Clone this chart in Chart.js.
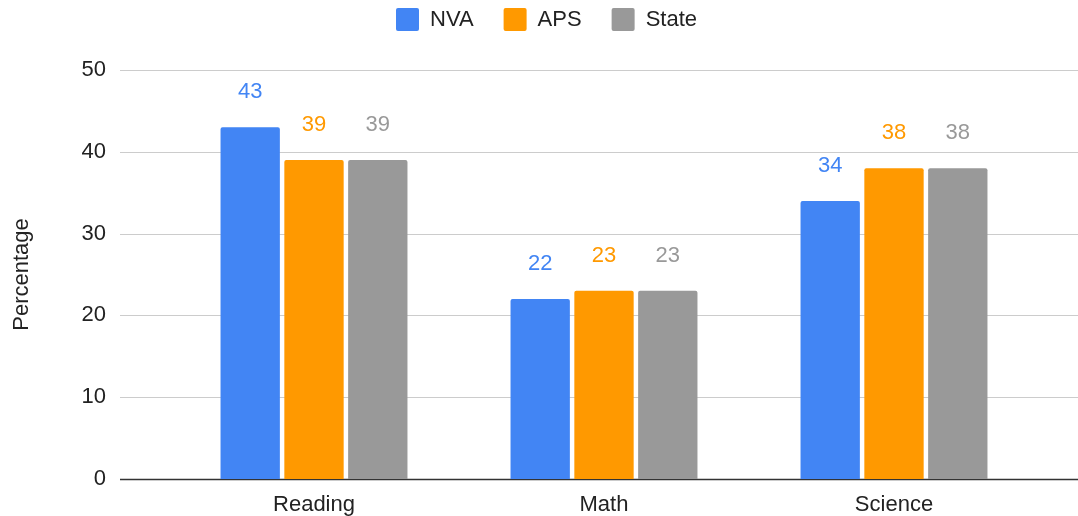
<!DOCTYPE html>
<html>
<head>
<meta charset="utf-8">
<script src="https://cdn.jsdelivr.net/npm/chart.js@4.4.0/dist/chart.umd.min.js"></script>
<style>
  html, body { margin: 0; padding: 0; background: #fff; }
  #wrap { width: 1078px; height: 516px; }
</style>
</head>
<body>
<div id="wrap"><canvas id="chart"></canvas></div>
<script>
// chart data
const subjects = ["Reading", "Math", "Science"];
const nva = [43, 22, 34];
const aps = [39, 23, 38];
const state = [39, 23, 38];
const yTicks = [0, 10, 20, 30, 40, 50];

const colors = ["#4285f4", "#ff9900", "#999999"];
const font = "'Liberation Sans', Arial, sans-serif";
const fsize = 22;

// horizontal gridlines that reach past the category area, like Sheets does
const sheetGrid = {
  id: "sheetGrid",
  afterInit(chart) {
    // legend keeps wide item spacing but takes less room above the plot
    const lg = chart.legend;
    if (lg && !lg._wrapped) {
      const fit = lg.fit.bind(lg);
      lg.fit = function () { fit(); this.height = 70; };
      lg._wrapped = true;
    }
  },
  afterLayout(chart) {
    const lg = chart.legend;
    lg.top -= 22; lg.bottom -= 22;
    lg.left += 27; lg.right += 27;
  },
  beforeDatasetsDraw(chart) {
    const ctx = chart.ctx;
    const y = chart.scales.y;
    const x0 = chart.chartArea.left - 49;
    const x1 = chart.width;
    ctx.save();
    yTicks.forEach(v => {
      const py = Math.round(y.getPixelForValue(v)) + 0.5;
      ctx.strokeStyle = v === 0 ? "#333333" : "#cccccc";
      ctx.lineWidth = v === 0 ? 1.5 : 1;
      ctx.beginPath();
      ctx.moveTo(x0, py);
      ctx.lineTo(x1, py);
      ctx.stroke();
    });
    ctx.restore();
  }
};

// value labels above each bar, drawn in series colour
const valueLabels = {
  id: "valueLabels",
  afterDatasetsDraw(chart) {
    const ctx = chart.ctx;
    ctx.save();
    ctx.font = fsize + "px " + font;
    ctx.textAlign = "center";
    ctx.textBaseline = "alphabetic";
    chart.data.datasets.forEach((ds, i) => {
      chart.getDatasetMeta(i).data.forEach((bar, j) => {
        ctx.fillStyle = ds.backgroundColor;
        ctx.fillText(ds.data[j], bar.x, bar.y - 29);
      });
    });
    ctx.restore();
  }
};

new Chart(document.getElementById("chart"), {
  type: "bar",
  data: {
    labels: subjects,
    datasets: [
      { label: "NVA", data: nva, backgroundColor: colors[0] },
      { label: "APS", data: aps, backgroundColor: colors[1] },
      { label: "State", data: state, backgroundColor: colors[2] }
    ]
  },
  options: {
    responsive: true,
    maintainAspectRatio: false,
    animation: false,
    layout: { padding: { top: 0, right: 39, left: 0, bottom: 0 } },
    datasets: {
      bar: {
        categoryPercentage: 0.66,
        barPercentage: 0.93,
        borderRadius: { topLeft: 2, topRight: 2 },
        borderSkipped: "bottom"
      }
    },
    plugins: {
      legend: {
        position: "top",
        labels: {
          font: { family: font, size: fsize },
          color: "#222",
          boxWidth: 23,
          boxHeight: 23,
          padding: 30,
          useBorderRadius: true,
          borderRadius: 2
        }
      },
      tooltip: { enabled: false }
    },
    scales: {
      x: {
        grid: { display: false, drawTicks: false },
        border: { display: false },
        ticks: { font: { family: font, size: fsize }, color: "#222", padding: 13 },
        afterFit(scale) { scale.height = 37; }
      },
      y: {
        min: 0,
        max: 50,
        afterBuildTicks(scale) { scale.ticks = yTicks.map(v => ({ value: v })); },
        // invisible tick marks push the labels out to where the gridlines begin
        grid: { display: false, drawTicks: true, tickLength: 49 },
        border: { display: false },
        ticks: { font: { family: font, size: fsize }, color: "#222", padding: 14 },
        title: {
          display: true,
          text: "Percentage",
          font: { family: font, size: fsize },
          color: "#222",
          padding: { top: 9, bottom: 0 }
        },
        afterFit(scale) { scale.width = 169; }
      }
    }
  },
  plugins: [sheetGrid, valueLabels]
});
</script>
</body>
</html>
